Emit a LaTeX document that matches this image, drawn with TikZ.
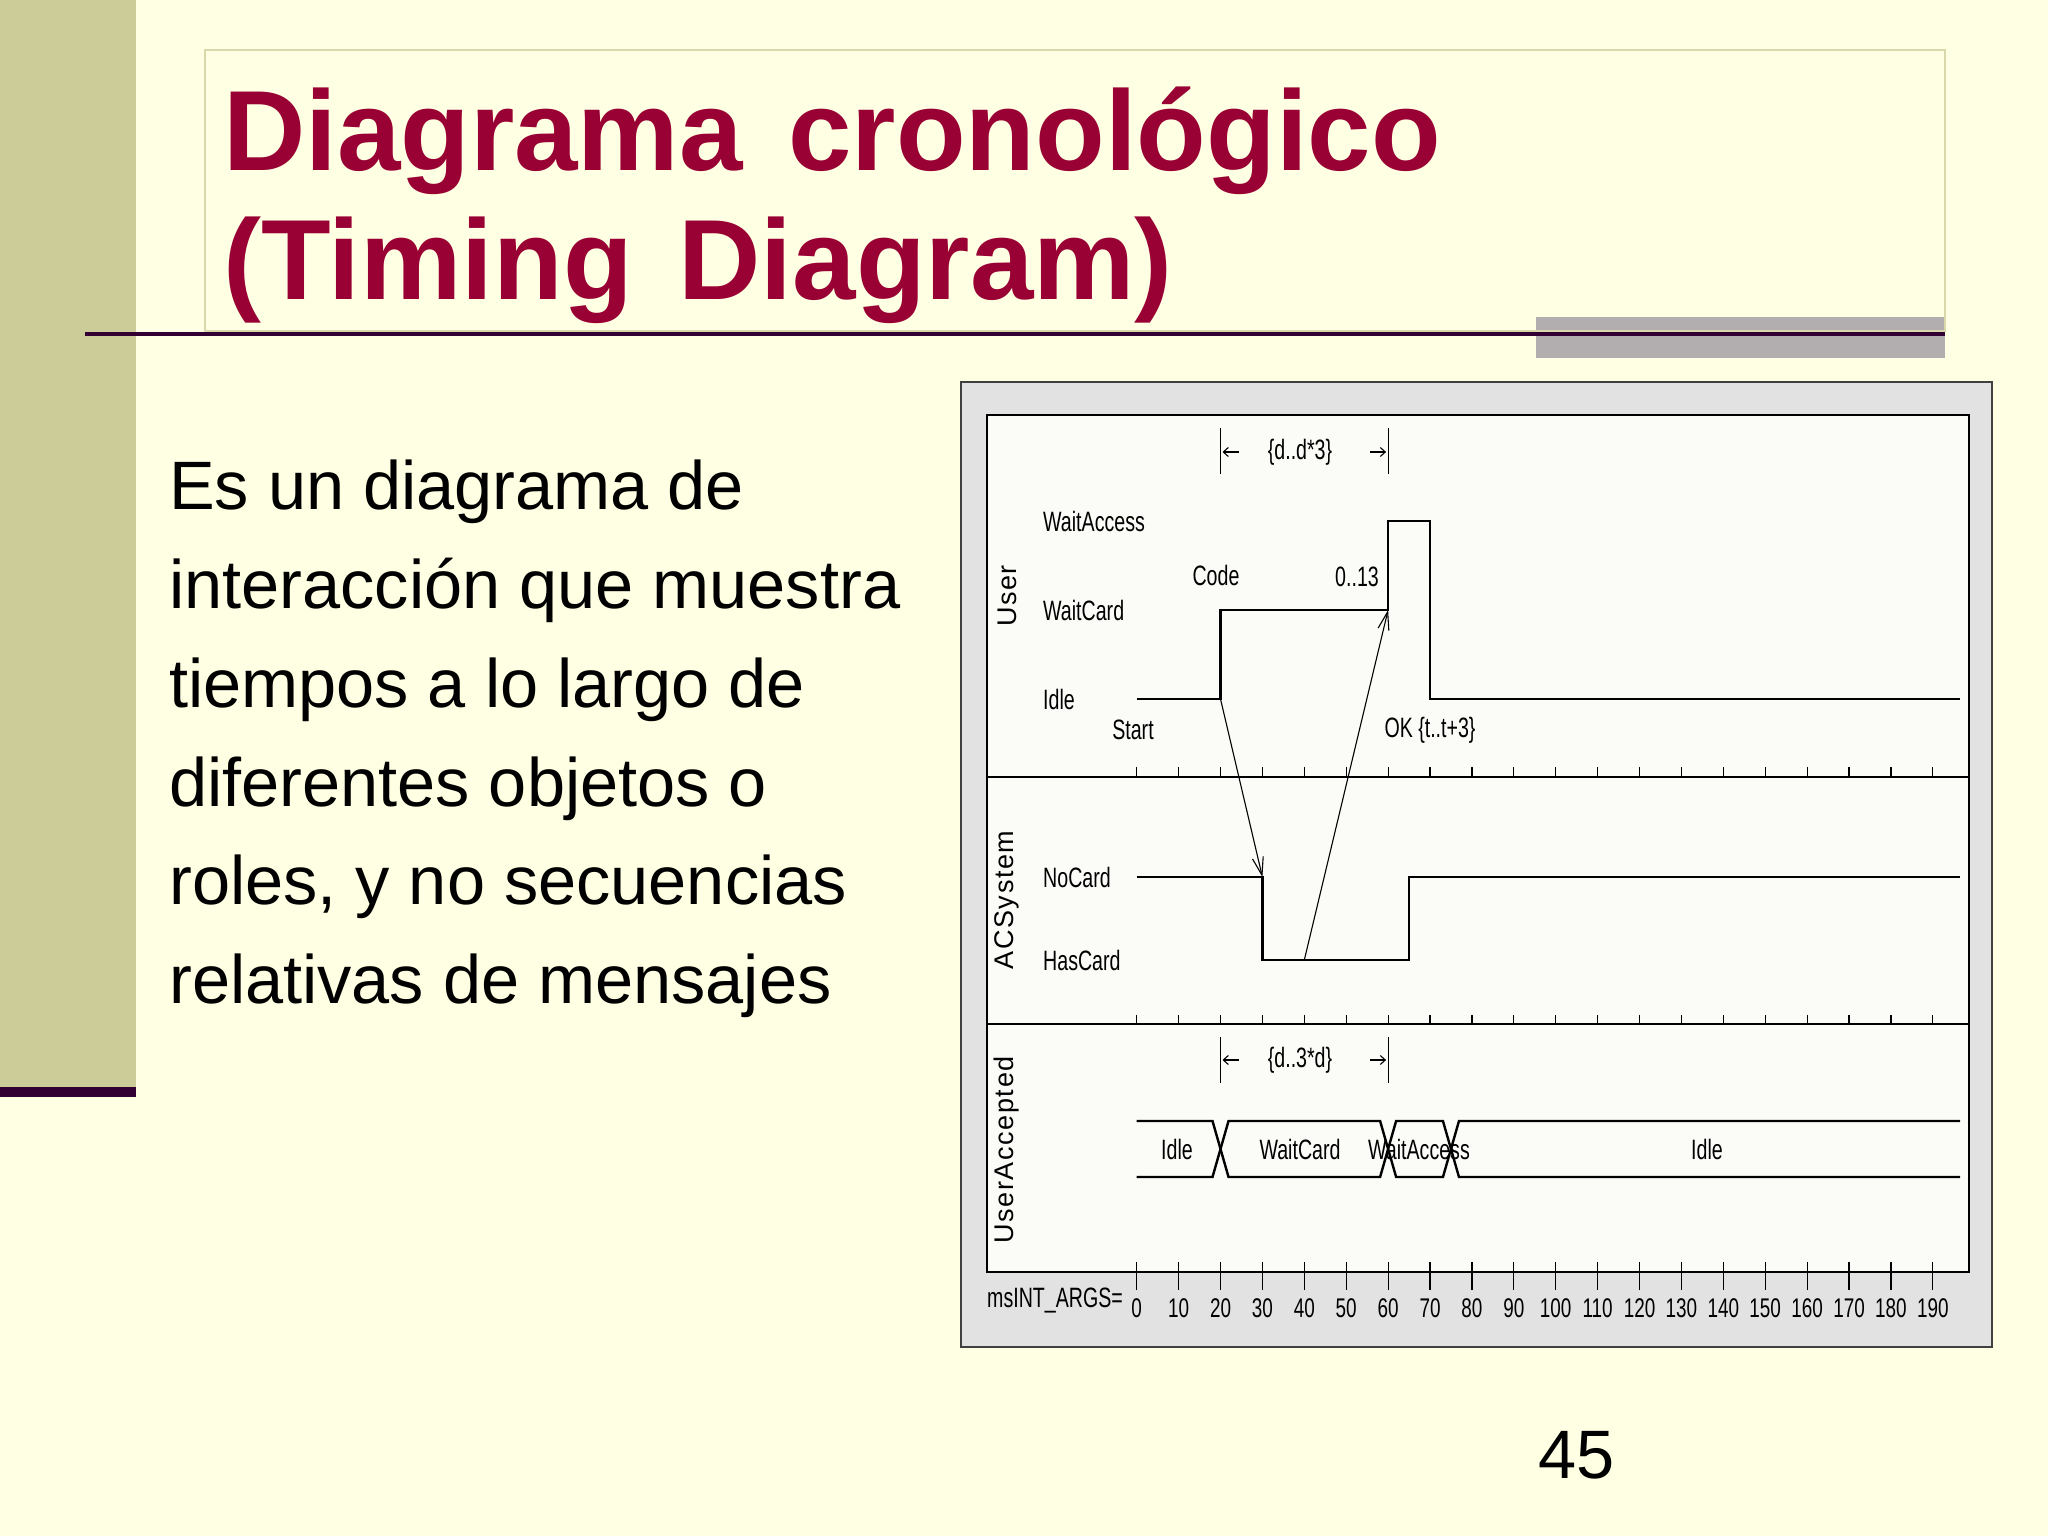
\documentclass[tikz,border=0pt]{standalone}
\usepackage{fontspec}
\setmainfont{Liberation Sans}
\newfontfamily\titlefont[WordSpace=1.45]{Liberation Sans}
\newfontfamily\umlfont[FakeStretch=0.7]{Liberation Sans}
\newfontfamily\lanefont[LetterSpace=6]{Liberation Sans}
\usetikzlibrary{arrows.meta}
\definecolor{slidebg}{HTML}{FFFFE3}
\definecolor{sidebar}{HTML}{CCCC99}
\definecolor{darkplum}{HTML}{330033}
\definecolor{titlered}{HTML}{990033}
\definecolor{shadegray}{HTML}{B2AEB0}
\definecolor{boxline}{HTML}{D8D8AA}
\definecolor{framegray}{HTML}{E2E2E2}
\definecolor{paneback}{HTML}{FBFBF8}
\newcommand{\tpos}[1]{1136.7+4.19*(#1)}

\begin{document}
\begin{tikzpicture}[x=1pt, y=-1pt,
  level/.style={line width=2.4pt},
  msg/.style={line width=1.1pt, -{Straight Barb[length=18pt,width=11pt,line width=1.1pt]}},
  dimtip/.style={line width=1.4pt, -{Straight Barb[length=5pt,width=9pt,line width=1.1pt]}},
  tick/.style={line width=1.2pt},
  lbl/.style={inner sep=0pt, font=\umlfont\fontsize{28}{30}\selectfont},
  lane/.style={inner sep=0pt, rotate=90, font=\lanefont\fontsize{27}{30}\selectfont},
  bodyline/.style={anchor=base west, inner sep=0pt, font=\fontsize{68.5}{80}\selectfont},
  titleline/.style={anchor=base west, inner sep=0pt, text=titlered, font=\titlefont\fontsize{114}{130}\selectfont\bfseries}]
\useasboundingbox (0,0) rectangle (2048,1536);
\fill[slidebg] (0,0) rectangle (2048,1536);
\fill[sidebar] (0,0) rectangle (136,1087);
\fill[darkplum] (0,1087) rectangle (136,1097);
\fill[shadegray] (1536,317) rectangle (1945,358);
\draw[boxline, line width=1.5pt] (205,50) rectangle (1945,331);
\draw[darkplum, line width=4pt] (85,334) -- (1945,334);
\node[titleline] (title1) at (223,171) {Diagrama cronológico};
\node[titleline] (title2) at (223,299) {(Timing Diagram)};
\node[bodyline] (body1) at (169,509) {Es un diagrama de};
\node[bodyline] (body2) at (169,608) {interacción que muestra};
\node[bodyline] (body3) at (169,707) {tiempos a lo largo de};
\node[bodyline] (body4) at (169,806) {diferentes objetos o};
\node[bodyline] (body5) at (169,904) {roles, y no secuencias};
\node[bodyline] (body6) at (169,1003) {relativas de mensajes};
\node[bodyline] (pagenum) at (1538,1478) {45};

\draw[fill=framegray, draw=black!75, line width=2pt] (961,382) rectangle (1992,1347);
\draw[fill=paneback, line width=2.7pt] (987,415) rectangle (1969,1272);
\draw[line width=2.7pt] (987,777) -- (1969,777);
\draw[line width=2.7pt] (987,1024) -- (1969,1024);
\foreach \t in {0,10,...,190} {
  \draw[tick] ({\tpos{\t}},767) -- ({\tpos{\t}},777);
  \draw[tick] ({\tpos{\t}},1015) -- ({\tpos{\t}},1024);
  \draw[tick] ({\tpos{\t}},1262) -- ({\tpos{\t}},1290);
  \node[lbl, font=\umlfont\fontsize{27}{28}\selectfont] (tl\t) at ({\tpos{\t}},1308) {\t};
}
\node[lbl, anchor=west] (axis) at (987,1300) {msINT\_ARGS=};

\node[lane] (user) at (1007,596) {User};
\node[lane] (acsys) at (1007,900) {ACSystem};
\node[lane] (accepted) at (1007,1150) {UserAccepted};

\node[lbl, anchor=west] (swaitaccess) at (1043,521) {WaitAccess};
\node[lbl, anchor=west] (swaitcard) at (1043,610) {WaitCard};
\node[lbl, anchor=west] (sidle) at (1043,699) {Idle};
\node[lbl, anchor=west] (snocard) at (1043,877) {NoCard};
\node[lbl, anchor=west] (shascard) at (1043,960) {HasCard};

\draw[level] ({\tpos{0}},699) -- ({\tpos{20}},699) -- ({\tpos{20}},610) -- ({\tpos{60}},610)
  -- ({\tpos{60}},521) -- ({\tpos{70}},521) -- ({\tpos{70}},699) -- (1960,699);
\draw[level] ({\tpos{0}},877) -- ({\tpos{30}},877) -- ({\tpos{30}},960) -- ({\tpos{65}},960)
  -- ({\tpos{65}},877) -- (1960,877);

\coordinate (startsrc) at ({\tpos{20}},699);
\coordinate (starttgt) at ({\tpos{30}},877);
\coordinate (oksrc) at ({\tpos{40}},960);
\coordinate (oktgt) at ({\tpos{60}},610);
\draw[msg] (startsrc) -- (starttgt);
\draw[msg] (oksrc) -- (oktgt);
\node[lbl] (mstart) at (1133,730) {Start};
\node[lbl] (mok) at (1430,730) {OK \{t..t+3\}};
\node[lbl] (mcode) at (1216,575) {Code};
\node[lbl] (mrange) at (1357,577) {0..13};

\draw[tick] ({\tpos{20}},428) -- ({\tpos{20}},474);
\draw[tick] ({\tpos{60}},428) -- ({\tpos{60}},474);
\draw[dimtip] ({\tpos{20}+18},452) -- ({\tpos{20}+2},452);
\draw[dimtip] ({\tpos{60}-18},452) -- ({\tpos{60}-2},452);
\node[lbl] (dur1) at (1300,452) {\{d..d*3\}};

\draw[tick] ({\tpos{20}},1037) -- ({\tpos{20}},1083);
\draw[tick] ({\tpos{60}},1037) -- ({\tpos{60}},1083);
\draw[dimtip] ({\tpos{20}+18},1060) -- ({\tpos{20}+2},1060);
\draw[dimtip] ({\tpos{60}-18},1060) -- ({\tpos{60}-2},1060);
\node[lbl] (dur2) at (1300,1060) {\{d..3*d\}};

\draw[level] ({\tpos{0}},1121) -- ({\tpos{20}-8},1121) -- ({\tpos{20}+8},1177) -- ({\tpos{60}-8},1177)
  -- ({\tpos{60}+8},1121) -- ({\tpos{75}-8},1121) -- ({\tpos{75}+8},1177) -- (1960,1177);
\draw[level] ({\tpos{0}},1177) -- ({\tpos{20}-8},1177) -- ({\tpos{20}+8},1121) -- ({\tpos{60}-8},1121)
  -- ({\tpos{60}+8},1177) -- ({\tpos{75}-8},1177) -- ({\tpos{75}+8},1121) -- (1960,1121);
\node[lbl] (bidle1) at (1177,1149) {Idle};
\node[lbl] (bwaitcard) at (1300,1149) {WaitCard};
\node[lbl] (bwaitaccess) at (1419,1149) {WaitAccess};
\node[lbl] (bidle2) at (1707,1149) {Idle};
\end{tikzpicture}
\end{document}
